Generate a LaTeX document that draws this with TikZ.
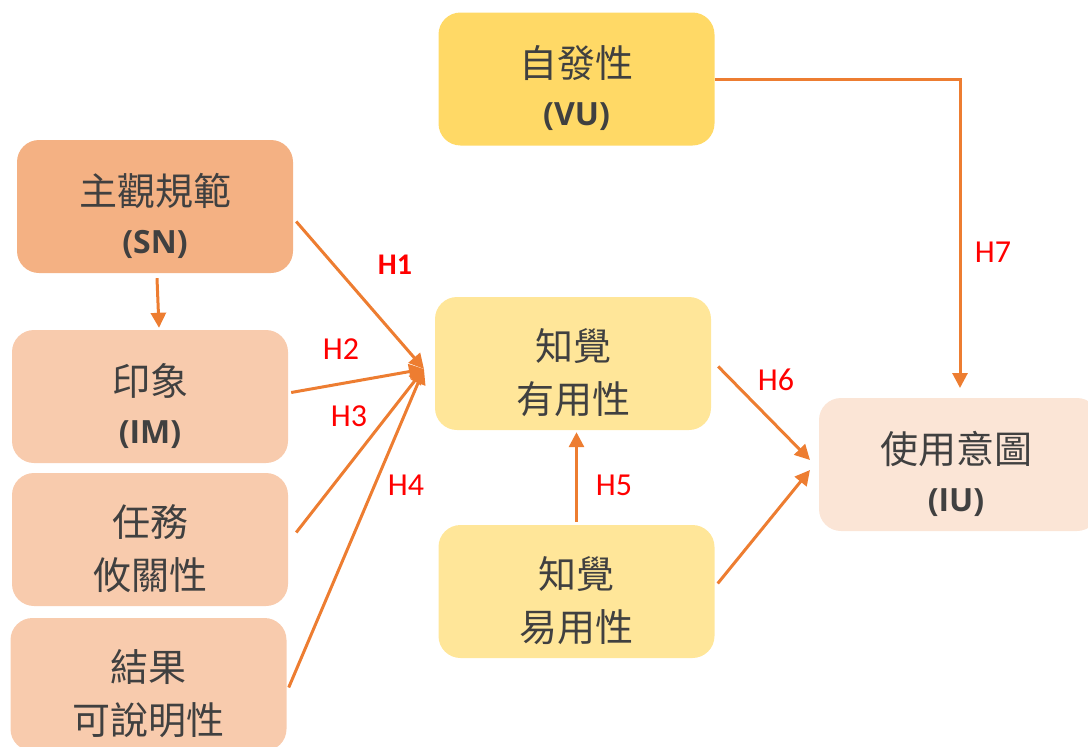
\documentclass[tikz,border=0pt]{standalone}
\usepackage{fontspec}
\setmainfont{Carlito}
\newfontfamily\cjk{Noto Sans CJK TC}
\newfontfamily\latb{Open Sans}
\usetikzlibrary{arrows.meta,calc}
\definecolor{txt}{HTML}{404040}
\definecolor{arr}{HTML}{ED7D31}
\definecolor{hred}{HTML}{FF0000}
\definecolor{snfill}{HTML}{F4B183}
\definecolor{imfill}{HTML}{F8CBAD}
\definecolor{vufill}{HTML}{FFD966}
\definecolor{pufill}{HTML}{FFE699}
\definecolor{iufill}{HTML}{FBE5D6}
\newcommand{\ab}[1]{{\latb\bfseries\fontsize{32}{32}\selectfont #1}}
\tikzset{
  box/.style={rectangle, rounded corners=22pt, draw=none, minimum width=276pt, minimum height=133pt, inner sep=0pt},
  btxt/.style={align=center, text=txt, font=\cjk\fontsize{38}{53}\selectfont, inner sep=0pt, yshift=-9pt},
  link/.style={draw=arr, line width=3pt, -{Triangle[length=15pt,width=15pt]}},
  hlab/.style={text=hred, font=\fontsize{32}{32}\selectfont},
}
\begin{document}
\begin{tikzpicture}[x=1pt,y=-1pt]
\useasboundingbox (0,0) rectangle (1088,747);
\node[box, fill=snfill] (SN) at (155,206.5) {};
\node[btxt] (SNt) at (SN.center) {主觀規範\\[-5pt]\ab{(SN)}};
\node[box, fill=imfill] (IM) at (150,396.5) {};
\node[btxt] (IMt) at (IM.center) {印象\\[-5pt]\ab{(IM)}};
\node[box, fill=imfill] (TR) at (150,539.5) {};
\node[btxt] (TRt) at (TR.center) {任務\\攸關性};
\node[box, fill=imfill] (RD) at (148.5,684.5) {};
\node[btxt] (RDt) at (RD.center) {結果\\可說明性};
\node[box, fill=vufill] (VU) at (576.5,79) {};
\node[btxt] (VUt) at (VU.center) {自發性\\[-5pt]\ab{(VU)}};
\node[box, fill=pufill] (PU) at (573,363.5) {};
\node[btxt] (PUt) at (PU.center) {知覺\\有用性};
\node[box, fill=pufill] (PE) at (576.5,591.5) {};
\node[btxt] (PEt) at (PE.center) {知覺\\易用性};
\node[box, fill=iufill, minimum width=280pt] (IU) at (959,464.5) {};
\node[btxt] (IUt) at ($(IU.center)+(-3,0)$) {使用意圖\\[-5pt]\ab{(IU)}};
\coordinate (conv) at (424,369);
\coordinate (iu6) at (810,460);
\coordinate (iu5) at (810,470);
\coordinate (iu7) at (960,388);
% connectors
\draw[link] ($(SN.south)+(2,5)$) -- ($(IM.north)+(9,-2)$);
\draw[link] ($(SN.east)+(3,15)$) -- (conv);
\draw[link] ($(IM.east)+(3,-4)$) -- (conv);
\draw[link] ($(TR.east)+(8,-7)$) -- (conv);
\draw[link] ($(RD.east)+(2,3)$) -- (conv);
\draw[link] ($(PE.north)+(0,-3)$) -- ($(PE.north |- PU.south)+(0,2)$);
\draw[link] ($(PU.east)+(7,3)$) -- (iu6);
\draw[link] ($(PE.east)+(3,-8)$) -- (iu5);
\draw[link] (VU.east) -| (iu7);
% labels
\node[hlab, font=\bfseries\fontsize{30}{30}\selectfont] (h1) at (395,265) {H1};
\node[hlab] (h2) at (341,349) {H2};
\node[hlab] (h3) at (349,416) {H3};
\node[hlab] (h4) at (406,485) {H4};
\node[hlab] (h5) at (614,485) {H5};
\node[hlab] (h6) at (776,380) {H6};
\node[hlab] (h7) at (993,252) {H7};
\end{tikzpicture}
\end{document}
